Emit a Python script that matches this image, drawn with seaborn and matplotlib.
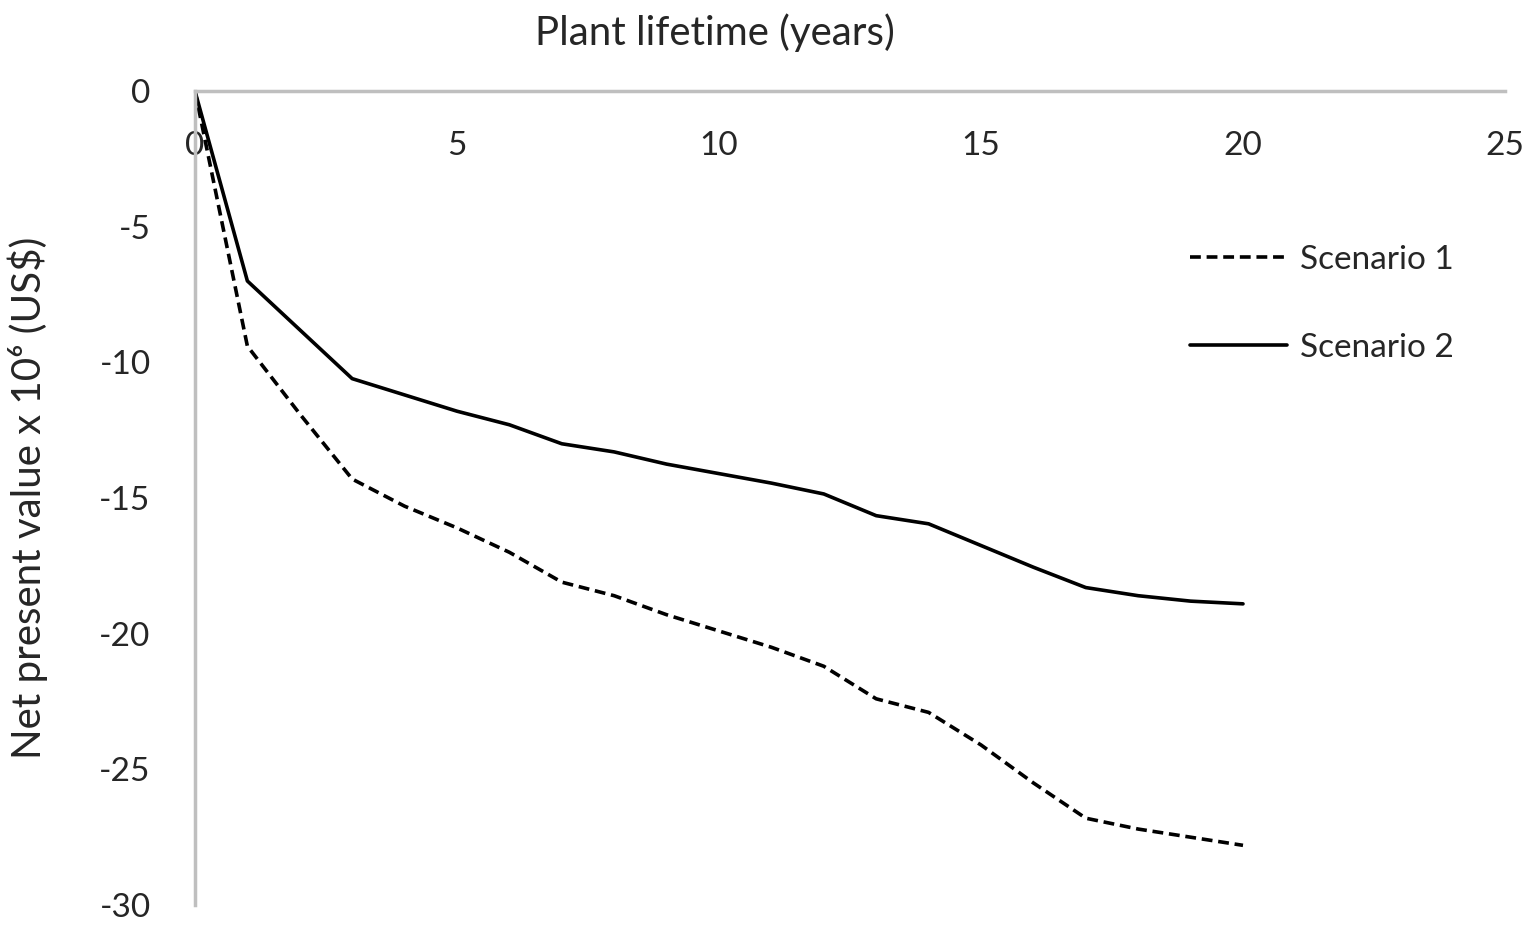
import matplotlib
matplotlib.use("Agg")
import matplotlib.pyplot as plt
import seaborn as sns
import pandas as pd

years = list(range(0, 21))
scenario1 = [0, -9.4, -11.9, -14.3, -15.3, -16.1, -17.0, -18.1, -18.6, -19.3, -19.9,
             -20.5, -21.2, -22.4, -22.9, -24.1, -25.5, -26.8, -27.2, -27.5, -27.8]
scenario2 = [0, -7.0, -8.8, -10.6, -11.2, -11.8, -12.3, -13.0, -13.3, -13.75, -14.1,
             -14.45, -14.85, -15.65, -15.95, -16.75, -17.55, -18.3, -18.6, -18.8, -18.9]
series_names = ["Scenario 1", "Scenario 2"]
x_ticks = [0, 5, 10, 15, 20, 25]
y_ticks = [0, -5, -10, -15, -20, -25, -30]

df = pd.DataFrame({
    "year": years * 2,
    "npv": scenario1 + scenario2,
    "scenario": [series_names[0]] * len(years) + [series_names[1]] * len(years),
})

sns.set_theme(style="white")
plt.rcParams["font.family"] = ["Lato", "DejaVu Sans"]

fig = plt.figure(figsize=(15.34, 9.27), dpi=100)
ax = fig.add_axes([0.1271, 0.0237, 0.8540, 0.8781])

sns.lineplot(data=df, x="year", y="npv", style="scenario",
             dashes={series_names[0]: (3, 1.6), series_names[1]: ""},
             color="black", linewidth=2.6, ax=ax, legend=True)

ax.set_xlim(0, 25)
ax.set_ylim(-30, 0)
ax.spines["bottom"].set_position(("data", 0))
ax.spines["right"].set_visible(False)
ax.spines["top"].set_visible(False)
for s in ["bottom", "left"]:
    ax.spines[s].set_color("#BFBFBF")
    ax.spines[s].set_linewidth(2.5)
ax.set_xticks(x_ticks)
ax.set_yticks(y_ticks)
ax.set_xticklabels([str(t) for t in x_ticks])
ax.set_yticklabels([str(t) for t in y_ticks])
ax.tick_params(axis="x", length=0, pad=29, labelsize=24)
ax.tick_params(axis="y", length=0, pad=32, labelsize=24)
ax.set_xlabel("")
ax.set_ylabel("Net present value x 10⁶ (US\\$)", fontsize=29)
ax.yaxis.set_label_coords(-0.112, 0.5)
fig.text(0.466, 0.965, "Plant lifetime (years)", fontsize=29, ha="center", va="center")

leg = ax.legend(loc="upper left", bbox_to_anchor=(0.737, 0.848), frameon=False,
                fontsize=24, handlelength=2.9, labelspacing=1.75, handletextpad=0.4)

fig.savefig("out.png", dpi=100)
